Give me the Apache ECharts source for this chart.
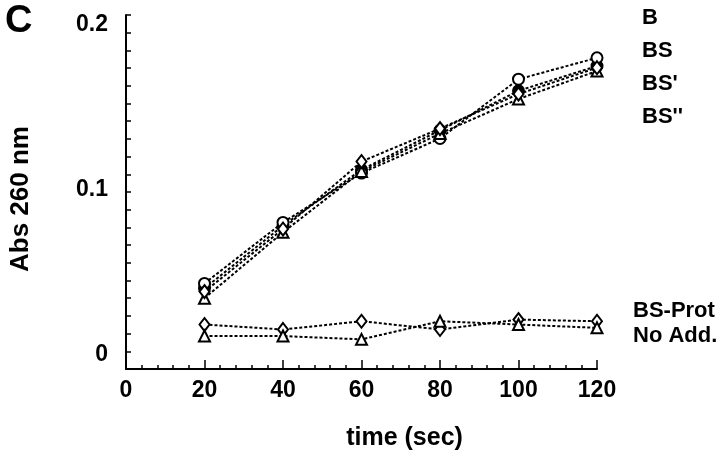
<!DOCTYPE html>
<html>
<head>
<meta charset="utf-8">
<script src="https://cdn.jsdelivr.net/npm/echarts@6/dist/echarts.min.js"></script>
<style>
  html, body { margin: 0; padding: 0; background: #fff; }
  #chart { width: 720px; height: 456px; }
</style>
</head>
<body>
<div id="chart"></div>
<script>
// time points (sec)
const times = [20, 40, 60, 80, 100, 120];

// Abs 260 nm for each condition
const seriesB = [0.040, 0.078, 0.112, 0.136, 0.160, 0.175];
const seriesBS = [0.043, 0.080, 0.110, 0.131, 0.167, 0.180];
const seriesBS1 = [0.034, 0.074, 0.111, 0.134, 0.155, 0.172];
const seriesBS2 = [0.038, 0.076, 0.117, 0.137, 0.158, 0.174];
const seriesProt = [0.018, 0.015, 0.020, 0.015, 0.021, 0.020];
const seriesNoAdd = [0.011, 0.011, 0.009, 0.020, 0.018, 0.016];

const upperNames = ["B", "BS", "BS'", "BS''"];
const lowerNames = ["BS-Prot", "No Add."];
const yLabels = [0, 0.1, 0.2];
const xLabels = [0, 20, 40, 60, 80, 100, 120];

const yMin = -0.009, yMax = 0.206;
// evenly spaced minor ticks along the y axis (20 steps, like the original)
const yTicks = [];
for (let i = 0; i <= 20; i++) yTicks.push(yMax - i * (yMax - yMin) / 20);

const font = "Liberation Sans";

const pair = (vals) => vals.map((v, i) => [times[i], v]);

const mkSeries = function (name, vals, symbol, filled) {
  return {
    name: name,
    type: "line",
    data: pair(vals),
    symbol: symbol,
    symbolSize: symbol === "diamond" ? [10, 13] : 11,
    itemStyle: {
      color: filled ? "#000" : "#fff",
      borderColor: "#000",
      borderWidth: 2,
    },
    lineStyle: { color: "#000", width: 2, type: [3, 2] },
    emphasis: { disabled: true },
    z: filled ? 3 : 4,
  };
};

const legendText = { color: "#000", fontSize: 22, fontWeight: "bold", fontFamily: font };

const chart = echarts.init(document.getElementById("chart"));
chart.setOption({
  animation: false,
  backgroundColor: "#fff",
  textStyle: { fontFamily: font },
  grid: { left: 124, right: 123, top: 15, bottom: 84 },
  graphic: [
    {
      type: "text",
      left: 5,
      top: 3,
      style: { text: "C", font: "bold 38px " + font, fill: "#000" },
    },
  ],
  legend: [
    {
      data: upperNames,
      orient: "vertical",
      left: 637,
      top: 6,
      padding: 0,
      icon: "none",
      itemWidth: 0,
      itemGap: 9,
      selectedMode: false,
      textStyle: Object.assign({ lineHeight: 24 }, legendText),
    },
    {
      data: lowerNames,
      orient: "vertical",
      left: 628,
      top: 300,
      padding: 0,
      icon: "none",
      itemWidth: 0,
      itemGap: 3,
      selectedMode: false,
      textStyle: Object.assign({ lineHeight: 22 }, legendText),
    },
  ],
  xAxis: {
    type: "value",
    min: 0,
    max: 120,
    interval: 20,
    name: "time (sec)",
    nameLocation: "middle",
    nameGap: 57,
    nameTextStyle: { color: "#000", fontSize: 25, fontWeight: "bold", fontFamily: font, padding: [0, 0, 0, 86] },
    axisLine: { onZero: false, lineStyle: { color: "#000", width: 2 } },
    axisTick: { inside: true, length: 9, lineStyle: { color: "#000", width: 1.5 } },
    minorTick: { show: true, splitNumber: 5, length: 4, lineStyle: { color: "#000", width: 1.5 } },
    axisLabel: {
      margin: 10,
      color: "#000",
      fontSize: 23,
      fontWeight: "bold",
      fontFamily: font,
      customValues: xLabels,
    },
    splitLine: { show: false },
  },
  yAxis: {
    type: "value",
    min: yMin,
    max: yMax,
    name: "Abs 260 nm",
    nameLocation: "middle",
    nameRotate: 90,
    nameGap: 92,
    nameTextStyle: { color: "#000", fontSize: 26, fontWeight: "bold", fontFamily: font, padding: [0, 14, 0, 0] },
    axisLine: { onZero: false, lineStyle: { color: "#000", width: 2 } },
    axisTick: { inside: true, length: 5, customValues: yTicks, lineStyle: { color: "#000", width: 1.5 } },
    axisLabel: {
      margin: 18,
      color: "#000",
      fontSize: 23,
      fontWeight: "bold",
      fontFamily: font,
      customValues: yLabels,
      formatter: (v) => String(v),
    },
    splitLine: { show: false },
  },
  series: [
    mkSeries("B", seriesB, "circle", true),
    mkSeries("BS", seriesBS, "circle", false),
    mkSeries("BS'", seriesBS1, "triangle", false),
    mkSeries("BS''", seriesBS2, "diamond", false),
    mkSeries("BS-Prot", seriesProt, "diamond", false),
    mkSeries("No Add.", seriesNoAdd, "triangle", false),
  ],
});
</script>
</body>
</html>
